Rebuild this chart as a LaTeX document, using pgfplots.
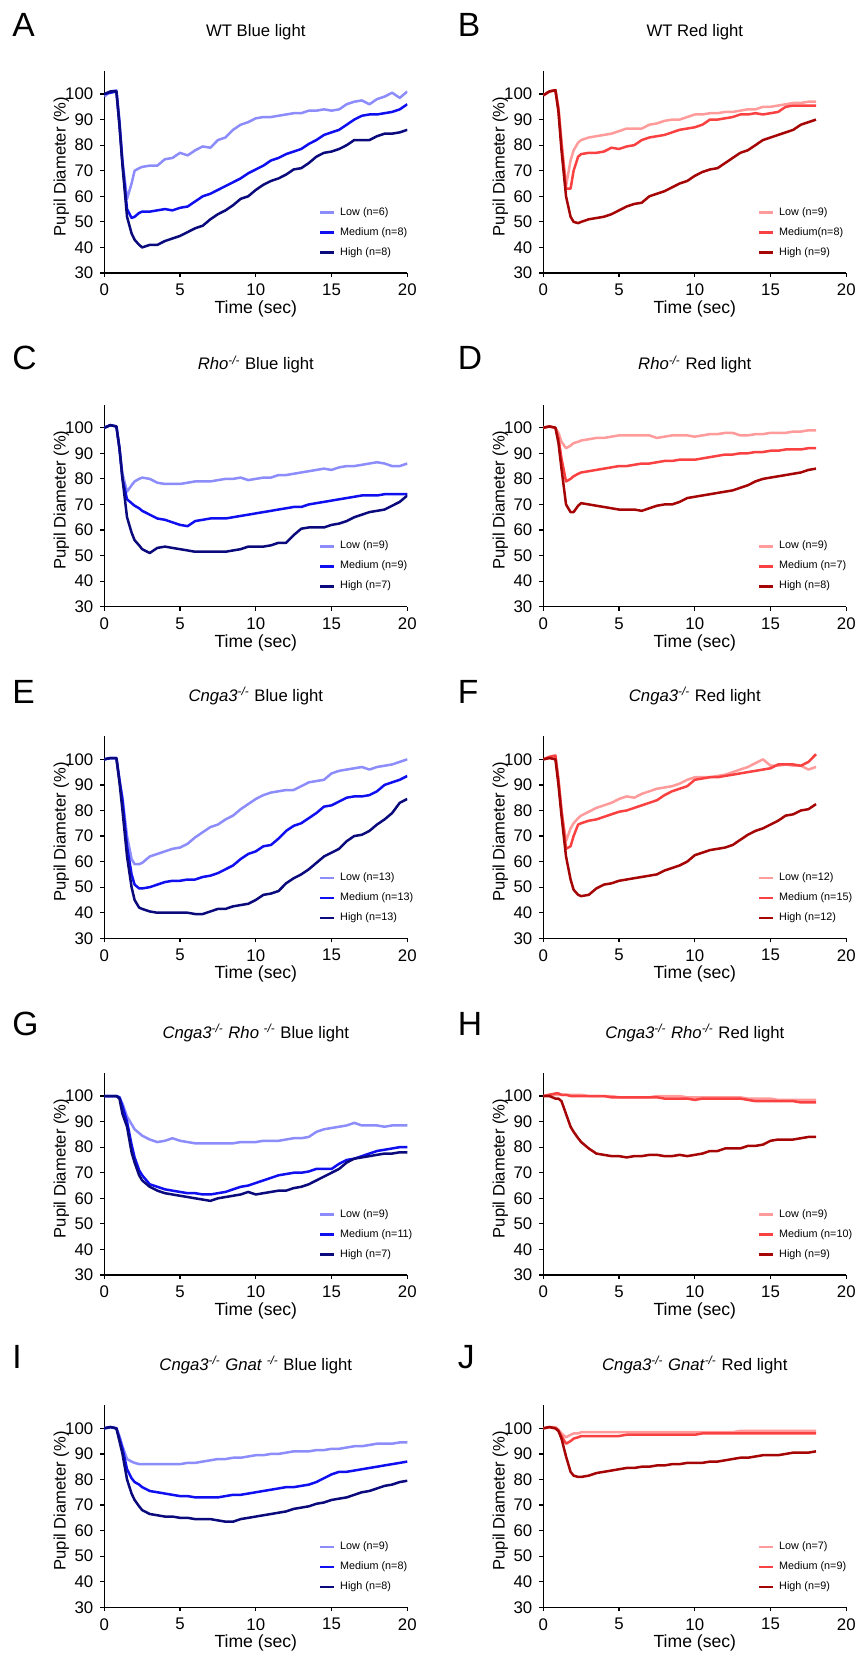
\documentclass[border=0pt]{standalone}
\usepackage{fontspec}
\setmainfont{Liberation Sans}
\usepackage{pgfplots}
\usepackage{pgfplotstable}
\pgfplotsset{compat=1.18}

\definecolor{bL}{RGB}{140,140,250}
\definecolor{bM}{RGB}{15,15,240}
\definecolor{bH}{RGB}{10,10,125}
\definecolor{rL}{RGB}{255,155,155}
\definecolor{rM}{RGB}{250,65,65}
\definecolor{rH}{RGB}{165,5,5}

\pgfplotsset{pup/.style={
  width=151.5pt, height=101pt, scale only axis,
  xmin=0, xmax=20, ymin=30, ymax=109,
  axis x line*=bottom, axis y line*=left,
  axis line style={line width=0.6pt,-},
  xtick={0,5,10,15,20}, ytick={30,40,50,60,70,80,90,100},
  tick align=outside, major tick length=2pt,
  tick style={line width=0.6pt,black},
  tick label style={font=\fontsize{8.4}{10}\selectfont},
  /pgf/number format/assume math mode=true,
  xlabel={Time (sec)}, ylabel={Pupil Diameter (\%)},
  xlabel style={font=\fontsize{8.8}{10}\selectfont, at={(axis description cs:0.5,0)}, anchor=base, yshift=-20.3pt},
  ylabel style={font=\fontsize{8.3}{10}\selectfont, at={(axis description cs:-0.142,0.527)}, anchor=center},
  title style={font=\fontsize{8.35}{10}\selectfont, at={(axis description cs:0.5,1)}, anchor=base, yshift=11.5pt},
  no markers,
  every axis plot/.append style={line width=1.25pt, line join=round},
  legend cell align=left,
  legend style={draw=none, fill=none, at={(axis description cs:0.706,0.0495)}, anchor=south west,
    inner sep=0pt, row sep=0pt, column sep=2.4pt, font=\fontsize{5.4}{6}\selectfont,
    nodes={inner sep=0pt, minimum height=10pt}},
  legend image code/.code={\draw[#1, line width=1.4pt] (0pt,0pt) -- (7pt,0pt);},
}}

\pgfplotstableread{
t L M H
0 99 100 100
0.4 101 100.5 101
0.8 101.5 101 101
1.0 90 88 88
1.2 74 73 72
1.5 59 55 52
1.8 65 51.5 45.5
2.0 70 52 43
2.3 71 53.5 41
2.5 71.5 54 40
3.0 72 54 41
3.5 72 54.5 41
4.0 74.5 55 42.5
4.5 75 54.5 43.5
5.0 77 55.5 44.5
5.5 76 56 46
6.0 78 58 47.5
6.5 79.5 60 48.5
7.0 79 61 51
7.5 82 62.5 53
8.0 83 64 54.5
8.5 86 65.5 56.5
9.0 88 67 59
9.5 89 69 60
10 90.5 70.5 62.5
10.5 91 72 64.5
11 91 74 66
11.5 91.5 75 67
12 92 76.5 68.5
12.5 92.5 77.5 70.5
13 92.5 78.5 71
13.5 93.5 80.5 73
14 93.5 82 75.5
14.5 94 84 77
15 93.5 85 77.5
15.5 94 86 78.5
16 96 88 80
16.5 97 90 82
17 97.5 91.5 82
17.5 96 92 82
18 98 92 83.5
18.5 99 92.5 84.5
19 100.5 93 84.5
19.5 98.5 94 85
20 101 96 86
}\tA

\pgfplotstableread{
t L M H
0 99.5 99.5 99.5
0.4 101 101 101
0.8 101.5 101.5 101.5
1.0 95 94 93
1.2 82 80 78
1.5 64 63 60
1.8 74 63 52
2.0 78 70 50
2.3 81 75.5 49.5
2.5 82 76.5 50
3.0 83 77 51
3.5 83.5 77 51.5
4.0 84 77.5 52
4.5 84.5 79 53
5.0 85.5 78.5 54.5
5.5 86.5 79.5 56
6.0 86.5 80 57
6.5 86.5 82 57.5
7.0 88 83 60
7.5 88.5 83.5 61
8.0 89.5 84 62
8.5 90 85 63.5
9.0 90 86 65
9.5 91 86.5 66
10 92 87 68
10.5 92 88 69.5
11 92.5 90 70.5
11.5 92.5 90 71
12 93 90.5 73
12.5 93 91 75
13 93.5 92 77
13.5 94 92 78
14 94 92.5 80
14.5 95 92 82
15 95 92.5 83
15.5 95.5 93 84
16 96 95 85
16.5 96.5 95.5 86
17 96.5 95.5 88
17.5 97 95.5 89
18 97 95.5 90
}\tB

\pgfplotstableread{
t L M H
0 100 100 100
0.4 101 101 101
0.8 100.5 100.5 100.5
1.0 92 92 92
1.2 82 80 80
1.5 75 72 65
1.8 77.5 70.5 59
2.0 79 69.5 56
2.3 80 68.5 54
2.5 80.5 67.5 52.5
3.0 80 66 51
3.5 78.5 64.5 53
4.0 78 64 53.5
4.5 78 63 53
5.0 78 62 52.5
5.5 78.5 61.5 52
6.0 79 63.5 51.5
6.5 79 64 51.5
7.0 79 64.5 51.5
7.5 79.5 64.5 51.5
8.0 80 64.5 51.5
8.5 80 65 52
9.0 80.5 65.5 52.5
9.5 79.5 66 53.5
10 80 66.5 53.5
10.5 80.5 67 53.5
11 80.5 67.5 54
11.5 81.5 68 55
12 81.5 68.5 55
12.5 82 69 58
13 82.5 69 60.5
13.5 83 70 61
14 83.5 70.5 61
14.5 84 71 61
15 83.5 71.5 62
15.5 84.5 72 62.5
16 85 72.5 63.5
16.5 85 73 65
17 85.5 73.5 66
17.5 86 73.5 67
18 86.5 73.5 67.5
18.5 86 74 68
19 85 74 69.5
19.5 85 74 71
20 86 74 73.5
}\tC

\pgfplotstableread{
t L M H
0 100 100 100
0.4 100.5 100.5 100.5
0.8 100 100 100
1.0 98 96 94
1.2 94.5 88 84
1.5 92 79 70
1.8 93 80 67
2.0 94 81 67
2.3 94.5 82 69.5
2.5 95 82.5 70.5
3.0 95.5 83 70
3.5 96 83.5 69.5
4.0 96 84 69
4.5 96.5 84.5 68.5
5.0 97 85 68
5.5 97 85 68
6.0 97 85.5 68
6.5 97 86 67.5
7.0 97 86 68.5
7.5 96 86.5 69.5
8.0 96.5 87 70
8.5 97 87 70
9.0 97 87.5 71
9.5 97 87.5 72.5
10 96.5 87.5 73
10.5 97 88 73.5
11 97.5 88.5 74
11.5 97.5 89 74.5
12 98 89.5 75
12.5 98 89.5 75.5
13 97 90 76.5
13.5 97 90 77.5
14 97.5 90.5 79
14.5 97.5 90.5 80
15 98 91 80.5
15.5 98 91 81
16 98 91.5 81.5
16.5 98.5 91.5 82
17 98.5 91.5 82.5
17.5 99 92 83.5
18 99 92 84
}\tD

\pgfplotstableread{
t L M H
0 100 100 100
0.4 100.5 100.5 100.5
0.8 100.5 100.5 100.5
1.0 92 92 91
1.2 85 84 80
1.5 70 66 62
1.8 61 55 50
2.0 59 51 45
2.3 59 49.5 42
2.5 59.5 49.5 41.5
3.0 62 50 40.5
3.5 63 51 40
4.0 64 52 40
4.5 65 52.5 40
5.0 65.5 52.5 40
5.5 67 53 40
6.0 69.5 53 39.5
6.5 71.5 54 39.5
7.0 73.5 54.5 40.5
7.5 74.5 55.5 41.5
8.0 76.5 57 41.5
8.5 78 58.5 42.5
9.0 80.5 61 43
9.5 82.5 63 43.5
10 84.5 64 45
10.5 86 66 47
11 87 66.5 47.5
11.5 87.5 69 48.5
12 88 72 51.5
12.5 88 74 53.5
13 89.5 75 55
13.5 91 77 57
14 91.5 79 59.5
14.5 92 81.5 62
15 94.5 82 63.5
15.5 95.5 83.5 65
16 96 85 68
16.5 96.5 85.5 70
17 97 85.5 70.5
17.5 96 86 72
18 97 87.5 74.5
18.5 97.5 90 76.5
19 98 91 79
19.5 99 92 83
20 100 93.5 84.5
}\tE

\pgfplotstableread{
t L M H
0 100 100 100
0.4 100.5 101 100.5
0.8 101 101.5 100
1.0 92 92 90
1.2 80 80 78
1.5 68 65 62
1.8 73 66 53
2.0 75 70 49
2.3 77 74.5 47
2.5 78 75 46.5
3.0 79.5 76 47
3.5 81 76.5 49.5
4.0 82 77.5 51
4.5 83 78.5 51.5
5.0 84.5 79.5 52.5
5.5 85.5 80 53
6.0 85 81 53.5
6.5 86.5 82 54
7.0 87.5 83 54.5
7.5 88.5 84 55
8.0 89 86 56.5
8.5 89.5 87.5 57.5
9.0 90.5 88.5 58.5
9.5 92 89.5 60
10 93 92 62.5
10.5 93 92.5 63.5
11 93 93 64.5
11.5 93.5 93 65
12 94 93.5 65.5
12.5 95 94 66.5
13 96 94.5 68.5
13.5 97 95 70.5
14 98.5 95.5 72
14.5 100 96 73
15 97.5 96.5 74.5
15.5 97.5 98 76
16 98 98 78
16.5 97.5 98 78.5
17 97.5 97.5 80
17.5 96 99 80.5
18 97 102 82.5
}\tF

\pgfplotstableread{
t L M H
0 100 100 100
0.4 100 100 100
0.8 100 100 100
1.0 99.5 99.5 99
1.2 97 96 93
1.5 92 90 88
1.8 89 81 78
2.0 87 76 74
2.3 85.5 71 69
2.5 84.5 69 67
3.0 83 65.5 64.5
3.5 82 64.5 63
4.0 82.5 63.5 62
4.5 83.5 63 61.5
5.0 82.5 62.5 61
5.5 82 62 60.5
6.0 81.5 62 60
6.5 81.5 61.5 59.5
7.0 81.5 61.5 59
7.5 81.5 62 60
8.0 81.5 62.5 60.5
8.5 81.5 63.5 61
9.0 82 64.5 61.5
9.5 82 65 62.5
10 82 66 61.5
10.5 82.5 67 62
11 82.5 68 62.5
11.5 82.5 69 63
12 83 69.5 63
12.5 83.5 70 64
13 83.5 70 64.5
13.5 84 70.5 65.5
14 86 71.5 67
14.5 87 71.5 68.5
15 87.5 71.5 70
15.5 88 73.5 71.5
16 88.5 75 74
16.5 89.5 75.5 75.5
17 88.5 76.5 76
17.5 88.5 77.5 76.5
18 88.5 78.5 77
18.5 88 79 77.5
19 88.5 79.5 77.5
19.5 88.5 80 78
20 88.5 80 78
}\tG

\pgfplotstableread{
t L M H
0 100 100 100
0.4 100.5 100.5 100
0.8 100.5 101 99
1.0 100.5 101 99
1.2 100.5 100.5 98
1.5 100.5 100.5 93
1.8 100.5 100 88
2.0 100.5 100 86
2.3 100.5 100 83.5
2.5 100.5 100 82
3.0 100 100 79.5
3.5 100 100 77.5
4.0 100 100 77
4.5 100 99.5 76.5
5.0 99.5 99.5 76.5
5.5 99.5 99.5 76
6.0 99.5 99.5 76.5
6.5 99.5 99.5 76.5
7.0 99.5 99.5 77
7.5 100 99.5 77
8.0 100 99 76.5
8.5 100 99 76.5
9.0 100 99 77
9.5 99.5 99 76.5
10 99.5 98.5 77
10.5 99.5 99 77.5
11 99.5 99 78.5
11.5 99.5 99 78.5
12 99.5 99 79.5
12.5 99.5 99 79.5
13 99.5 99 79.5
13.5 99 98.5 80.5
14 99 98 80.5
14.5 99 98 81
15 99 98 82.5
15.5 98.5 98 83
16 98.5 98 83
16.5 98.5 98 83
17 98.5 97.5 83.5
17.5 98.5 97.5 84
18 98.5 97.5 84
}\tH

\pgfplotstableread{
t L M H
0 100 100 100
0.4 100.5 100.5 100.5
0.8 100 100 100
1.0 97 96 95
1.2 93 92 90
1.5 88 84 80
1.8 87 80.5 74.5
2.0 86.5 79 72
2.3 86 78 69.5
2.5 86 77 68
3.0 86 75.5 66.5
3.5 86 75 66
4.0 86 74.5 65.5
4.5 86 74 65.5
5.0 86 73.5 65
5.5 86.5 73.5 65
6.0 86.5 73 64.5
6.5 87 73 64.5
7.0 87.5 73 64.5
7.5 88 73 64
8.0 88 73.5 63.5
8.5 88.5 74 63.5
9.0 88.5 74 64.5
9.5 89 74.5 65
10 89.5 75 65.5
10.5 89.5 75.5 66
11 90 76 66.5
11.5 90 76.5 67
12 90.5 77 67.5
12.5 91 77 68.5
13 91 77.5 69
13.5 91 78 69.5
14 91.5 79 70.5
14.5 91.5 80.5 71
15 92 82 72
15.5 92 83 72.5
16 92.5 83 73
16.5 93 83.5 74
17 93 84 75
17.5 93.5 84.5 75.5
18 94 85 76.5
18.5 94 85.5 77.5
19 94 86 78
19.5 94.5 86.5 79
20 94.5 87 79.5
}\tI

\pgfplotstableread{
t L M H
0 100 100 100
0.4 100.5 100.5 100.5
0.8 100.5 100 100
1.0 99.5 99 99
1.2 98 97 96
1.5 96.5 94 89
1.8 97.5 95 83
2.0 98 96 81.5
2.3 98 96.5 81
2.5 98.5 97 81
3.0 98.5 97 81.5
3.5 98.5 97 82.5
4.0 98.5 97 83
4.5 98.5 97 83.5
5.0 98.5 97 84
5.5 98.5 97.5 84.5
6.0 98.5 97.5 84.5
6.5 98.5 97.5 85
7.0 98.5 97.5 85
7.5 98.5 97.5 85.5
8.0 98.5 97.5 85.5
8.5 98.5 97.5 86
9.0 98.5 97.5 86
9.5 98.5 97.5 86.5
10 98.5 97.5 86.5
10.5 98.5 98 86.5
11 98.5 98 87
11.5 98.5 98 87
12 98.5 98 87.5
12.5 98.5 98 88
13 99 98 88.5
13.5 99 98 88.5
14 99 98 89
14.5 99 98 89.5
15 99 98 89.5
15.5 99 98 89.5
16 99 98 90
16.5 99 98 90.5
17 99 98 90.5
17.5 99 98 90.5
18 99 98 91
}\tJ

\begin{document}
\begin{tikzpicture}
\useasboundingbox (0,0) rectangle (429.5pt,-826.5pt);

% row 1
\begin{axis}[pup, at={(52.15pt,-136.5pt)}, title={WT Blue light}]
\addplot[bL] table[x=t,y=L]{\tA};
\addplot[bM] table[x=t,y=M]{\tA};
\addplot[bH] table[x=t,y=H]{\tA};
\legend{Low (n=6),Medium (n=8),High (n=8)}
\end{axis}
\begin{axis}[pup, at={(271.65pt,-136.5pt)}, title={WT Red light}]
\addplot[rL] table[x=t,y=L]{\tB};
\addplot[rM] table[x=t,y=M]{\tB};
\addplot[rH] table[x=t,y=H]{\tB};
\legend{Low (n=9),Medium(n=8),High (n=9)}
\end{axis}

% row 2
\begin{axis}[pup, at={(52.15pt,-303.35pt)}, title={\textit{Rho}\textsuperscript{\textit{-/-}} Blue light}]
\addplot[bL] table[x=t,y=L]{\tC};
\addplot[bM] table[x=t,y=M]{\tC};
\addplot[bH] table[x=t,y=H]{\tC};
\legend{Low (n=9),Medium (n=9),High (n=7)}
\end{axis}
\begin{axis}[pup, at={(271.65pt,-303.35pt)}, title={\textit{Rho}\textsuperscript{\textit{-/-}} Red light}]
\addplot[rL] table[x=t,y=L]{\tD};
\addplot[rM] table[x=t,y=M]{\tD};
\addplot[rH] table[x=t,y=H]{\tD};
\legend{Low (n=9),Medium (n=7),High (n=8)}
\end{axis}

% row 3
\begin{axis}[pup, at={(52.15pt,-469.15pt)}, title={\textit{Cnga3}\textsuperscript{\textit{-/-}} Blue light}]
\addplot[bL] table[x=t,y=L]{\tE};
\addplot[bM] table[x=t,y=M]{\tE};
\addplot[bH] table[x=t,y=H]{\tE};
\legend{Low (n=13),Medium (n=13),High (n=13)}
\end{axis}
\begin{axis}[pup, at={(271.65pt,-469.15pt)}, title={\textit{Cnga3}\textsuperscript{\textit{-/-}} Red light}]
\addplot[rL] table[x=t,y=L]{\tF};
\addplot[rM] table[x=t,y=M]{\tF};
\addplot[rH] table[x=t,y=H]{\tF};
\legend{Low (n=12),Medium (n=15),High (n=12)}
\end{axis}

% row 4
\begin{axis}[pup, at={(52.15pt,-637.5pt)}, title={\textit{Cnga3}\textsuperscript{\textit{-/-}} \textit{Rho} \textsuperscript{\textit{-/-}} Blue light}]
\addplot[bL] table[x=t,y=L]{\tG};
\addplot[bM] table[x=t,y=M]{\tG};
\addplot[bH] table[x=t,y=H]{\tG};
\legend{Low (n=9),Medium (n=11),High (n=7)}
\end{axis}
\begin{axis}[pup, at={(271.65pt,-637.5pt)}, title={\textit{Cnga3}\textsuperscript{\textit{-/-}} \textit{Rho}\textsuperscript{\textit{-/-}} Red light}]
\addplot[rL] table[x=t,y=L]{\tH};
\addplot[rM] table[x=t,y=M]{\tH};
\addplot[rH] table[x=t,y=H]{\tH};
\legend{Low (n=9),Medium (n=10),High (n=9)}
\end{axis}

% row 5
\begin{axis}[pup, at={(52.15pt,-803.65pt)}, title={\textit{Cnga3}\textsuperscript{\textit{-/-}} \textit{Gnat} \textsuperscript{\textit{-/-}} Blue light}]
\addplot[bL] table[x=t,y=L]{\tI};
\addplot[bM] table[x=t,y=M]{\tI};
\addplot[bH] table[x=t,y=H]{\tI};
\legend{Low (n=9),Medium (n=8),High (n=8)}
\end{axis}
\begin{axis}[pup, at={(271.65pt,-803.65pt)}, title={\textit{Cnga3}\textsuperscript{\textit{-/-}} \textit{Gnat}\textsuperscript{\textit{-/-}} Red light}]
\addplot[rL] table[x=t,y=L]{\tJ};
\addplot[rM] table[x=t,y=M]{\tJ};
\addplot[rH] table[x=t,y=H]{\tJ};
\legend{Low (n=7),Medium (n=9),High (n=9)}
\end{axis}

% panel letters
\begin{scope}[every node/.style={anchor=base west, inner sep=0pt, font=\fontsize{16.8}{18}\selectfont}]
\node at (6pt,-18.5pt) {A};
\node at (228.75pt,-18.5pt) {B};
\node at (6pt,-184.5pt) {C};
\node at (228.75pt,-184.5pt) {D};
\node at (6pt,-351.5pt) {E};
\node at (228.75pt,-351.5pt) {F};
\node at (6pt,-517.5pt) {G};
\node at (228.75pt,-517.5pt) {H};
\node at (6pt,-684pt) {I};
\node at (228.75pt,-684pt) {J};
\end{scope}
\end{tikzpicture}
\end{document}
